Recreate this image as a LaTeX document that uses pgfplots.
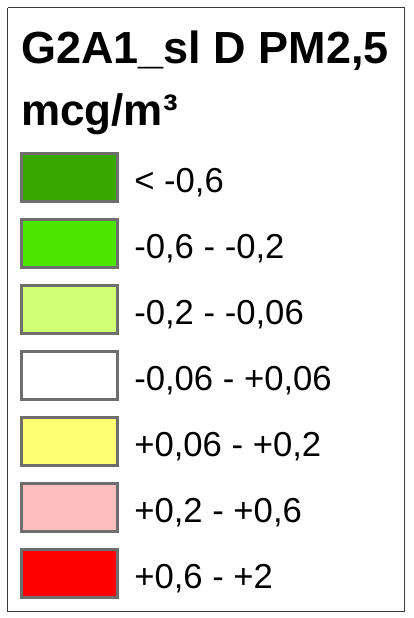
\documentclass[border=0pt]{standalone}
\usepackage{pgfplots}
\pgfplotsset{compat=1.18}
\usepackage{fontspec}
\setmainfont{Liberation Sans}
\definecolor{c1}{HTML}{38A800}
\definecolor{c2}{HTML}{4CE600}
\definecolor{c3}{HTML}{D1FF73}
\definecolor{c4}{HTML}{FFFFFF}
\definecolor{c5}{HTML}{FFFF73}
\definecolor{c6}{HTML}{FFBEBE}
\definecolor{c7}{HTML}{FF0000}
\definecolor{edge}{HTML}{6E6E6E}
\definecolor{frame}{HTML}{3A3A3A}
\begin{document}
\begin{tikzpicture}
\begin{axis}[
  scale only axis, width=310.5pt, height=463.5pt,
  xmin=0, xmax=414, ymin=0, ymax=618, y dir=reverse,
  hide axis, clip=false,
]
% outer frame
\addplot[draw=frame, line width=1pt, mark=none] coordinates {(7.5,7.5) (404.5,7.5) (404.5,611.5) (7.5,611.5) (7.5,7.5)};
% legend swatches
\addplot[fill=c1, draw=edge, line width=2.25pt, mark=none] coordinates {(21.5,153) (117.5,153) (117.5,201.5) (21.5,201.5) (21.5,153)} -- cycle;
\addplot[fill=c2, draw=edge, line width=2.25pt, mark=none] coordinates {(21.5,219) (117.5,219) (117.5,267.5) (21.5,267.5) (21.5,219)} -- cycle;
\addplot[fill=c3, draw=edge, line width=2.25pt, mark=none] coordinates {(21.5,285) (117.5,285) (117.5,333.5) (21.5,333.5) (21.5,285)} -- cycle;
\addplot[fill=c4, draw=edge, line width=2.25pt, mark=none] coordinates {(21.5,351) (117.5,351) (117.5,399.5) (21.5,399.5) (21.5,351)} -- cycle;
\addplot[fill=c5, draw=edge, line width=2.25pt, mark=none] coordinates {(21.5,417) (117.5,417) (117.5,465.5) (21.5,465.5) (21.5,417)} -- cycle;
\addplot[fill=c6, draw=edge, line width=2.25pt, mark=none] coordinates {(21.5,483) (117.5,483) (117.5,531.5) (21.5,531.5) (21.5,483)} -- cycle;
\addplot[fill=c7, draw=edge, line width=2.25pt, mark=none] coordinates {(21.5,549) (117.5,549) (117.5,597.5) (21.5,597.5) (21.5,549)} -- cycle;
% texts
\node[anchor=base west, inner sep=0pt, font=\fontsize{33.75pt}{36pt}\selectfont\bfseries] at (axis cs:21,63) {G2A1\_sl D PM2,5};
\node[anchor=base west, inner sep=0pt, font=\fontsize{33pt}{36pt}\selectfont\bfseries] at (axis cs:21,125) {mcg/m³};
\begin{scope}[every node/.style={anchor=base west, inner sep=0pt, font=\fontsize{26pt}{29pt}\selectfont}]
\node at (axis cs:134,192.5) {< -0,6};
\node at (axis cs:134,258.5) {-0,6 - -0,2};
\node at (axis cs:134,324.5) {-0,2 - -0,06};
\node at (axis cs:134,390.5) {-0,06 - +0,06};
\node at (axis cs:134,456.5) {+0,06 - +0,2};
\node at (axis cs:134,522.5) {+0,2 - +0,6};
\node at (axis cs:134,588.5) {+0,6 - +2};
\end{scope}
\end{axis}
\pgfresetboundingbox
\path (current axis.south west) rectangle (current axis.north east);
\end{tikzpicture}
\end{document}
